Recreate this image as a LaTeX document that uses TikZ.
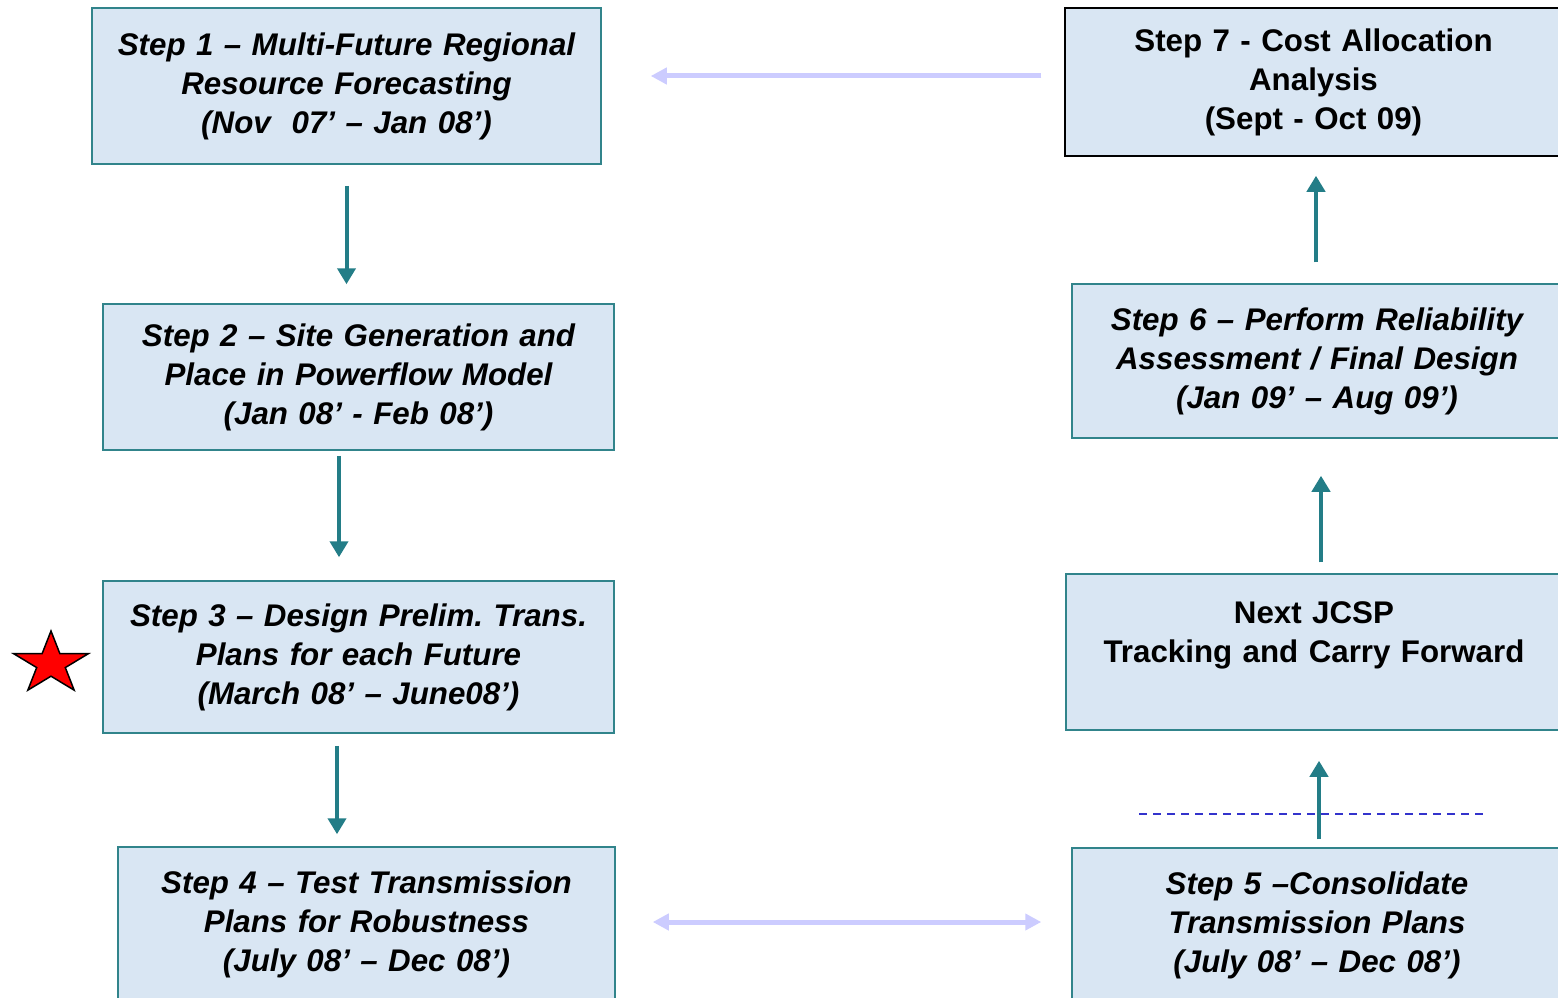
\documentclass[tikz,border=0pt]{standalone}
\usepackage{fontspec}
\setmainfont{Liberation Sans}
\usetikzlibrary{arrows.meta}
\frenchspacing

\definecolor{boxfill}{RGB}{217,230,243}
\definecolor{boxline}{RGB}{49,132,139}
\definecolor{flowteal}{RGB}{35,125,135}
\definecolor{backflow}{RGB}{204,204,255}
\definecolor{cutblue}{RGB}{51,51,204}

\tikzset{
  stepbox/.style={draw=boxline, line width=1.5pt, fill=boxfill, inner sep=0pt,
    align=center, font=\bfseries\itshape\fontsize{31.3}{39}\selectfont},
  plainbox/.style={stepbox, font=\bfseries\fontsize{31.3}{39}\selectfont},
  flow/.style={draw=flowteal, line width=4pt, -{Triangle[length=16pt,width=18pt]}},
  backarrow/.style={draw=backflow, line width=5pt, -{Triangle[length=16pt,width=16pt]}},
}

\begin{document}
\begin{tikzpicture}[x=1pt,y=-1pt]
			\useasboundingbox[fill=white] (0,0) rectangle (1558,998);
			% left column
			\node[stepbox, minimum width=509pt, minimum height=156pt, text width=500pt] (s1) at (346.5,86)
				{Step 1 – Multi-Future Regional\\Resource Forecasting\\(Nov\ \ 07’ – Jan 08’)};
			\node[stepbox, minimum width=511pt, minimum height=146pt, text width=500pt] (s2) at (358.5,377)
				{Step 2 – Site Generation and\\Place in Powerflow Model\\(Jan 08’ - Feb 08’)};
			\node[stepbox, minimum width=511pt, minimum height=152pt, text width=500pt] (s3) at (358.5,657)
				{Step 3 – Design Prelim. Trans.\\Plans for each Future\\(March 08’ – June08’)};
			\node[stepbox, minimum width=497pt, minimum height=154pt, text width=490pt] (s4) at (366.5,924)
				{Step 4 – Test Transmission\\Plans for Robustness\\(July 08’ – Dec 08’)};
			% right column
			\node[plainbox, draw=black, minimum width=497pt, minimum height=148pt, text width=490pt] (s7) at (1313.5,82)
				{Step 7 - Cost Allocation\\Analysis\\(Sept - Oct 09)};
			\node[stepbox, minimum width=490pt, minimum height=154pt, text width=480pt] (s6) at (1317,361)
				{Step 6 – Perform Reliability\\Assessment / Final Design\\(Jan 09’ – Aug 09’)};
			\node[plainbox, minimum width=496pt, minimum height=156pt, text width=490pt] (next) at (1314,652)
				{Next JCSP\\Tracking and Carry Forward\\~};
			\node[stepbox, minimum width=490pt, minimum height=154pt, text width=480pt] (s5) at (1317,925)
				{Step 5 –Consolidate\\Transmission Plans\\(July 08’ – Dec 08’)};

			% flow arrows
			\draw[flow] ([yshift=-21pt]s1.south) -- ([yshift=19pt]s1.south |- s2.north);
			\draw[flow] ([xshift=-19.5pt,yshift=-5pt]s2.south) -- ([xshift=-19.5pt,yshift=23pt]s2.south |- s3.north);
			\draw[flow] ([xshift=-21.5pt,yshift=-12pt]s3.south) -- ([xshift=-21.5pt,yshift=12pt]s3.south |- s4.north);
			\draw[flow] ([xshift=2pt,yshift=8pt]s5.north) -- ([xshift=2pt,yshift=-30pt]s5.north |- next.south);
			\draw[flow] ([xshift=7pt,yshift=11pt]next.north) -- ([xshift=7pt,yshift=-37pt]next.north |- s6.south);
			\draw[flow] ([xshift=-1pt,yshift=21pt]s6.north) -- ([xshift=-1pt,yshift=-19pt]s6.north |- s7.south);
			\draw[backarrow] ([xshift=-23pt,yshift=6pt]s7.west) -- ([xshift=49pt,yshift=6pt]s7.west -| s1.east);
			\draw[backarrow, {Triangle[length=16pt,width=16pt]}-{Triangle[length=16pt,width=16pt]}]
				([xshift=37pt,yshift=2pt]s4.east) -- ([xshift=-30pt,yshift=2pt]s4.east -| s5.west);

			% dashed line across step 5 arrow
			\draw[cutblue, line width=2pt, dash pattern=on 8pt off 6pt] (1139,814) -- (1483,814);

			% star beside step 3
			\filldraw[fill=red, draw=black, line width=1.5pt, shift={(51,663.7)}, yscale=-0.83]
				(90:39.4) -- (126:15.05) -- (162:39.4) -- (198:15.05) -- (234:39.4)
				-- (270:15.05) -- (306:39.4) -- (342:15.05) -- (18:39.4) -- (54:15.05) -- cycle;
		\end{tikzpicture}
\end{document}
